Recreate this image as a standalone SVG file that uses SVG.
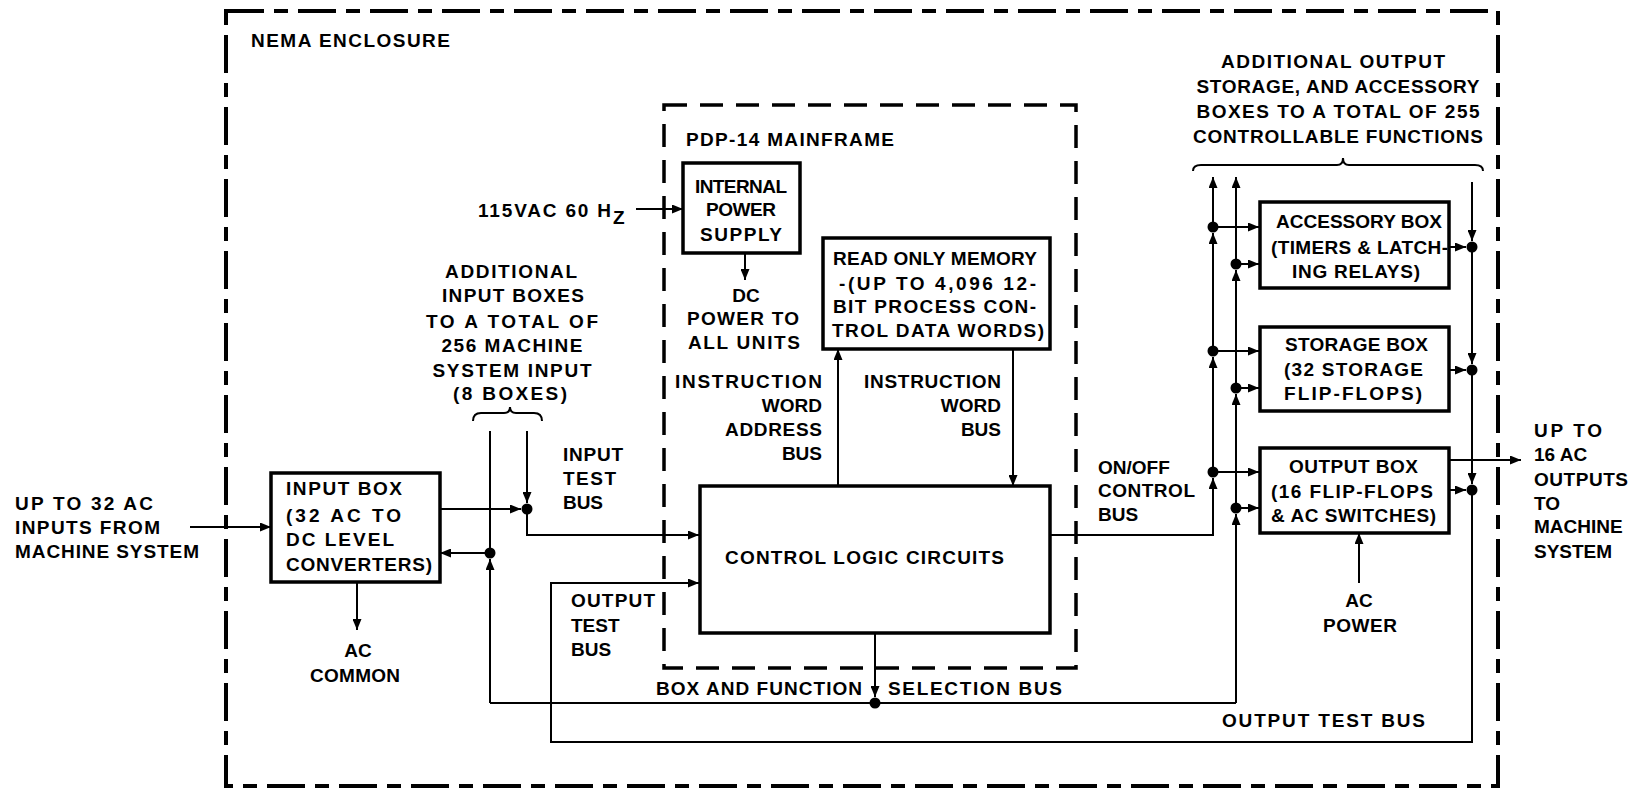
<svg xmlns="http://www.w3.org/2000/svg" width="1637" height="789" viewBox="0 0 1637 789">
<style>
.t{font-family:"Liberation Sans",Arial,sans-serif;font-weight:bold;font-size:19px;fill:#000}
.m{text-anchor:middle}
.e{text-anchor:end}
.box{fill:#fff;stroke:#000;stroke-width:3.5}
.ln{fill:none;stroke:#000;stroke-width:2}
.la{fill:none;stroke:#000;stroke-width:2;marker-end:url(#arr)}
.dot{fill:#000}
.outer{fill:none;stroke:#000;stroke-width:4;stroke-dasharray:38 10 14 10}
.main{fill:none;stroke:#000;stroke-width:3.5;stroke-dasharray:23 13}
</style>
<defs>
<marker id="arr" markerUnits="userSpaceOnUse" markerWidth="12" markerHeight="9" refX="11" refY="4.5" orient="auto">
<path d="M0,0 L11,4.5 L0,9 z" fill="#000"/>
</marker>
</defs>
<rect width="1637" height="789" fill="#fff"/>

<g id="enclosure">
<rect class="outer" x="226" y="11" width="1272" height="775"/>
<text class="t" x="251" y="47" textLength="199">NEMA ENCLOSURE</text>
</g>

<g id="mainframe">
<rect class="main" x="664" y="105" width="412" height="563"/>
<text class="t" x="686" y="146" textLength="208">PDP-14 MAINFRAME</text>
</g>

<g id="connectors">
<path class="la" d="M190,527 H271"/>
<path class="la" d="M636,209 H683"/>
<path class="la" d="M745,253 V280"/>
<path class="la" d="M838,486 V349"/>
<path class="la" d="M1013,349 V486"/>
<path class="la" d="M440,509 H521"/>
<path class="la" d="M527,431 V503"/>
<path class="la" d="M527,509 V535 H699"/>
<path class="ln" d="M490,431 V553"/>
<path class="la" d="M490,703 V559"/>
<path class="la" d="M490,553 H440"/>
<path class="la" d="M875,633 V697"/>
<path class="ln" d="M490,703 H1236"/>
<path class="la" d="M1236,703 V514"/>
<path class="la" d="M1236,508 V394"/>
<path class="la" d="M1236,388 V270"/>
<path class="la" d="M1236,264 V177"/>
<path class="la" d="M1050,535 H1213 V478"/>
<path class="la" d="M1213,472 V357"/>
<path class="la" d="M1213,351 V233"/>
<path class="la" d="M1213,227 V177"/>
<path class="la" d="M1213,227 H1259"/>
<path class="la" d="M1236,264 H1259"/>
<path class="la" d="M1213,351 H1259"/>
<path class="la" d="M1236,388 H1259"/>
<path class="la" d="M1213,472 H1259"/>
<path class="la" d="M1236,508 H1259"/>
<path class="la" d="M1472,182 V241"/>
<path class="la" d="M1472,247 V364"/>
<path class="la" d="M1472,370 V484"/>
<path class="la" d="M1472,490 V742 H551 V583 H699"/>
<path class="la" d="M1449,247 H1466"/>
<path class="la" d="M1449,370 H1466"/>
<path class="la" d="M1449,490 H1466"/>
<path class="la" d="M1449,460 H1521"/>
<path class="la" d="M1359,583 V533"/>
<path class="la" d="M357,582 V630"/>
<path class="ln" d="M473,421 Q473,413 481,413 H504 Q510,413 510,407 Q510,413 516,413 H534 Q542,413 542,421"/>
<path class="ln" d="M1193,171 Q1193,165 1201,165 H1337 Q1343,165 1343,158 Q1343,165 1349,165 H1475 Q1483,165 1483,171"/>
<circle class="dot" cx="527" cy="509" r="5.5"/>
<circle class="dot" cx="490" cy="553" r="5.5"/>
<circle class="dot" cx="875" cy="703" r="5.5"/>
<circle class="dot" cx="1213" cy="472" r="5.5"/>
<circle class="dot" cx="1213" cy="351" r="5.5"/>
<circle class="dot" cx="1213" cy="227" r="5.5"/>
<circle class="dot" cx="1236" cy="508" r="5.5"/>
<circle class="dot" cx="1236" cy="388" r="5.5"/>
<circle class="dot" cx="1236" cy="264" r="5.5"/>
<circle class="dot" cx="1472" cy="247" r="5.5"/>
<circle class="dot" cx="1472" cy="370" r="5.5"/>
<circle class="dot" cx="1472" cy="490" r="5.5"/>
</g>

<g id="power-supply">
<rect class="box" x="683" y="163" width="117" height="90"/>
<text class="t m" x="741" y="193" textLength="92">INTERNAL</text>
<text class="t m" x="741" y="216" textLength="70">POWER</text>
<text class="t m" x="741" y="241" textLength="82">SUPPLY</text>
</g>

<g id="rom">
<rect class="box" x="823" y="238" width="227" height="111"/>
<text class="t" x="833" y="265" textLength="204">READ ONLY MEMORY</text>
<text class="t" x="839" y="290" textLength="197">-(UP TO 4,096 12-</text>
<text class="t" x="833" y="313" textLength="203">BIT PROCESS CON-</text>
<text class="t" x="832" y="337" textLength="212">TROL DATA WORDS)</text>
</g>

<g id="control-logic">
<rect class="box" x="700" y="486" width="350" height="147"/>
<text class="t" x="725" y="564" textLength="279">CONTROL LOGIC CIRCUITS</text>
</g>

<g id="input-box">
<rect class="box" x="271" y="473" width="169" height="109"/>
<text class="t" x="286" y="495" textLength="116">INPUT BOX</text>
<text class="t" x="286" y="522" textLength="115">(32 AC TO</text>
<text class="t" x="286" y="546" textLength="108">DC LEVEL</text>
<text class="t" x="286" y="571" textLength="146">CONVERTERS)</text>
</g>

<g id="accessory-box">
<rect class="box" x="1260" y="202" width="189" height="86"/>
<text class="t" x="1276" y="228" textLength="166">ACCESSORY BOX</text>
<text class="t" x="1271" y="254" textLength="177">(TIMERS &amp; LATCH-</text>
<text class="t" x="1292" y="278" textLength="128">ING RELAYS)</text>
</g>

<g id="storage-box">
<rect class="box" x="1260" y="327" width="189" height="84"/>
<text class="t" x="1285" y="351" textLength="143">STORAGE BOX</text>
<text class="t" x="1284" y="376" textLength="139">(32 STORAGE</text>
<text class="t" x="1284" y="400" textLength="138">FLIP-FLOPS)</text>
</g>

<g id="output-box">
<rect class="box" x="1260" y="448" width="189" height="85"/>
<text class="t" x="1289" y="473" textLength="129">OUTPUT BOX</text>
<text class="t" x="1271" y="498" textLength="162">(16 FLIP-FLOPS</text>
<text class="t" x="1271" y="522" textLength="165">&amp; AC SWITCHES)</text>
</g>

<g id="labels">
<text class="t" x="478" y="217" textLength="133">115VAC 60 H</text>
<text class="t" x="613" y="224">Z</text>
<text class="t m" x="746" y="302">DC</text>
<text class="t" x="687" y="325" textLength="112">POWER TO</text>
<text class="t" x="688" y="349" textLength="112">ALL UNITS</text>
<text class="t e" x="822" y="388" textLength="147">INSTRUCTION</text>
<text class="t e" x="822" y="412">WORD</text>
<text class="t e" x="822" y="436" textLength="97">ADDRESS</text>
<text class="t e" x="822" y="460">BUS</text>
<text class="t e" x="1001" y="388" textLength="137">INSTRUCTION</text>
<text class="t e" x="1001" y="412">WORD</text>
<text class="t e" x="1001" y="436">BUS</text>
<text class="t" x="15" y="510" textLength="138">UP TO 32 AC</text>
<text class="t" x="15" y="534" textLength="145">INPUTS FROM</text>
<text class="t" x="15" y="558" textLength="184">MACHINE SYSTEM</text>
<text class="t m" x="358" y="657">AC</text>
<text class="t" x="310" y="682" textLength="90">COMMON</text>
<text class="t m" x="511" y="278" textLength="132">ADDITIONAL</text>
<text class="t m" x="513" y="302" textLength="142">INPUT BOXES</text>
<text class="t m" x="512" y="328" textLength="172">TO A TOTAL OF</text>
<text class="t m" x="512" y="352" textLength="141">256 MACHINE</text>
<text class="t m" x="512" y="377" textLength="159">SYSTEM INPUT</text>
<text class="t m" x="510" y="400" textLength="114">(8 BOXES)</text>
<text class="t" x="563" y="461" textLength="60">INPUT</text>
<text class="t" x="563" y="485" textLength="53">TEST</text>
<text class="t" x="563" y="509" textLength="40">BUS</text>
<text class="t" x="571" y="607" textLength="84">OUTPUT</text>
<text class="t" x="571" y="632">TEST</text>
<text class="t" x="571" y="656">BUS</text>
<text class="t" x="656" y="695" textLength="206">BOX AND FUNCTION</text>
<text class="t" x="888" y="695" textLength="174">SELECTION BUS</text>
<text class="t" x="1098" y="474">ON/OFF</text>
<text class="t" x="1098" y="497" textLength="97">CONTROL</text>
<text class="t" x="1098" y="521">BUS</text>
<text class="t m" x="1333" y="68" textLength="224">ADDITIONAL OUTPUT</text>
<text class="t m" x="1338" y="93" textLength="283">STORAGE, AND ACCESSORY</text>
<text class="t m" x="1338" y="118" textLength="283">BOXES TO A TOTAL OF 255</text>
<text class="t m" x="1338" y="143" textLength="290">CONTROLLABLE FUNCTIONS</text>
<text class="t m" x="1359" y="607">AC</text>
<text class="t" x="1323" y="632" textLength="74">POWER</text>
<text class="t" x="1222" y="727" textLength="203">OUTPUT TEST BUS</text>
<text class="t" x="1534" y="437" textLength="68">UP TO</text>
<text class="t" x="1534" y="461">16 AC</text>
<text class="t" x="1534" y="486" textLength="94">OUTPUTS</text>
<text class="t" x="1534" y="510">TO</text>
<text class="t" x="1534" y="533">MACHINE</text>
<text class="t" x="1534" y="558">SYSTEM</text>
</g>
</svg>
